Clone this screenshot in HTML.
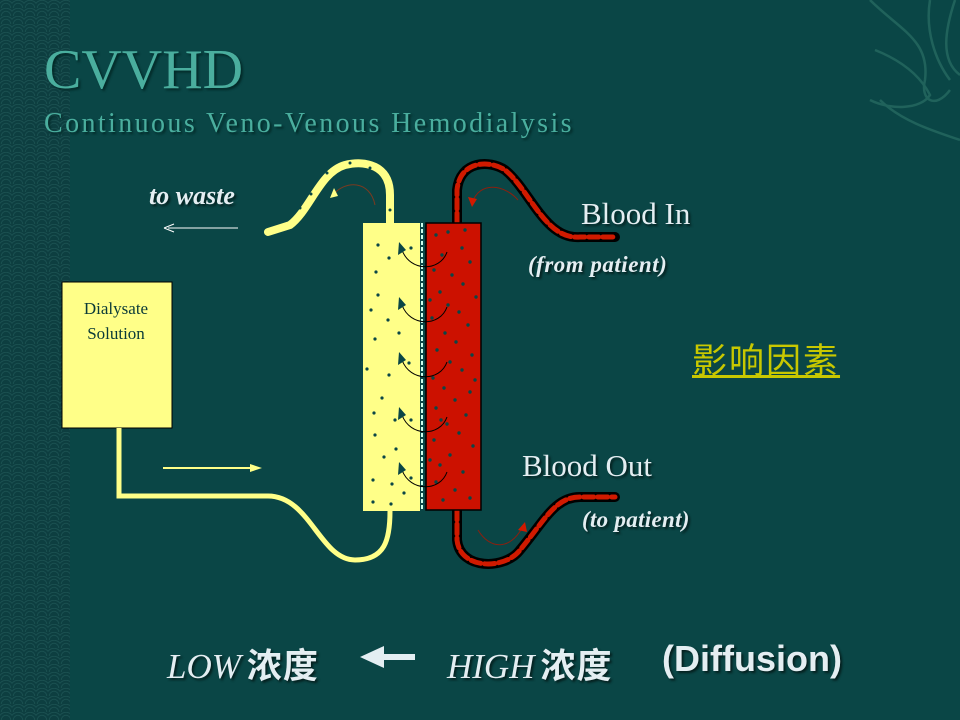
<!DOCTYPE html>
<html><head><meta charset="utf-8"><style>
html,body{margin:0;padding:0}
body{width:960px;height:720px;overflow:hidden;background:#0a4646;position:relative;font-family:"Liberation Serif",serif}
.strip{position:absolute;left:0;top:0;width:70px;height:720px;background-color:#0d3e40;
background-image:radial-gradient(circle at 50% 100%, transparent 4px, #1f5656 4.5px, transparent 5.5px, transparent 7px, #1f5656 7.5px, transparent 8.5px);
background-size:12px 8px}
.t{position:absolute;white-space:nowrap}
.sh{color:#e4eef2;text-shadow:2px 2px 2px #05201f}
.cj{font-family:'Liberation Sans','Noto Sans CJK SC',sans-serif;font-size:35px;font-weight:bold;margin-left:6px;letter-spacing:1px}
</style></head><body>
<div class="strip"></div>
<div class="t" style="left:44px;top:38px;font-size:56px;color:#4aae9e;text-shadow:2px 2px 2px #032a28;letter-spacing:0px">CVVHD</div>
<div class="t" style="left:44px;top:108px;font-size:28px;color:#4aae9e;text-shadow:2px 2px 2px #032a28;letter-spacing:2.4px">Continuous Veno-Venous Hemodialysis</div>

<svg width="960" height="720" style="position:absolute;left:0;top:0">
 <g fill="none" stroke="#2a6e64" stroke-width="2.5" opacity="0.7">
  <path d="M870 0 C900 30 930 40 925 80 C920 100 935 110 950 90"/>
  <path d="M930 0 C925 30 935 60 950 80"/>
  <path d="M955 0 C945 30 940 60 960 75"/>
  <path d="M875 50 C900 60 920 75 930 95 C920 110 890 110 870 100"/>
  <path d="M880 100 C900 120 930 130 960 140"/>
 </g>
 <rect x="62" y="282" width="110" height="146" fill="#ffff88" stroke="#000" stroke-width="1"/>
 <path d="M119 428 V496 H268 C310 496 320 560 355 560 C385 560 390 540 390 511" fill="none" stroke="#ffff88" stroke-width="5"/>
 <path d="M390 223 V195 C390 165 365 160 345 165 C320 172 310 210 290 225 L268 232" fill="none" stroke="#ffff88" stroke-width="8" stroke-linecap="round"/>
 <g fill="#0a4646"><circle cx="350" cy="163" r="1.5"/><circle cx="327" cy="173" r="1.5"/><circle cx="311" cy="194" r="1.5"/><circle cx="300" cy="208" r="1.5"/><circle cx="370" cy="168" r="1.5"/><circle cx="390" cy="210" r="1.5"/></g>
 <path d="M163 468 H258" stroke="#ffff88" stroke-width="2"/>
 <path d="M262 468 L250 464 L250 472 Z" fill="#ffff88"/>
 <path d="M238 228 H168" stroke="#fff" stroke-width="1"/>
 <path d="M164 228 L174 224 M164 228 L174 232" stroke="#fff" stroke-width="1"/>
 <path d="M375 205 C370 180 345 180 333 195" fill="none" stroke="#7a3a20" stroke-width="1"/>
 <path d="M330 198 L334 188 L338 196 Z" fill="#ffff88"/>
 <path d="M457 223 V190 C460 160 490 160 505 170 C530 190 545 240 580 237 H615" fill="none" stroke="#000" stroke-width="10" stroke-linecap="round"/>
 <path d="M457 223 V190 C460 160 490 160 505 170 C530 190 545 240 580 237 H615" fill="none" stroke="#d01a00" stroke-width="5" stroke-dasharray="10 4" stroke-linecap="round"/>
 <path d="M457 510 V540 C460 570 505 570 520 550 C545 520 555 497 580 497 H615" fill="none" stroke="#000" stroke-width="10" stroke-linecap="round"/>
 <path d="M457 510 V540 C460 570 505 570 520 550 C545 520 555 497 580 497 H615" fill="none" stroke="#d01a00" stroke-width="5" stroke-dasharray="10 4" stroke-linecap="round"/>
 <path d="M518 200 C505 185 480 180 472 203" fill="none" stroke="#8a2010" stroke-width="1"/>
 <path d="M472 207 L468 197 L477 199 Z" fill="#d01a00"/>
 <path d="M478 530 C490 550 510 550 522 528" fill="none" stroke="#8a2010" stroke-width="1"/>
 <path d="M525 522 L518 530 L527 532 Z" fill="#d01a00"/>
 <rect x="363" y="223" width="57" height="288" fill="#ffff88"/>
 <rect x="426" y="223" width="55" height="287" fill="#cc1100" stroke="#000" stroke-width="1.5"/>
 <line x1="422" y1="223" x2="422" y2="511" stroke="#cfe" stroke-width="2" stroke-dasharray="4 2"/>
 <g fill="#0a4646">
  <circle cx="378" cy="245" r="1.6"/><circle cx="389" cy="258" r="1.6"/><circle cx="376" cy="272" r="1.6"/><circle cx="411" cy="248" r="1.6"/><circle cx="378" cy="295" r="1.6"/><circle cx="371" cy="310" r="1.6"/><circle cx="388" cy="320" r="1.6"/><circle cx="399" cy="333" r="1.6"/><circle cx="375" cy="339" r="1.6"/><circle cx="367" cy="369" r="1.6"/><circle cx="389" cy="375" r="1.6"/><circle cx="409" cy="363" r="1.6"/><circle cx="382" cy="398" r="1.6"/><circle cx="374" cy="413" r="1.6"/><circle cx="395" cy="420" r="1.6"/><circle cx="375" cy="435" r="1.6"/><circle cx="396" cy="449" r="1.6"/><circle cx="384" cy="457" r="1.6"/><circle cx="373" cy="480" r="1.6"/><circle cx="392" cy="484" r="1.6"/><circle cx="404" cy="493" r="1.6"/><circle cx="373" cy="502" r="1.6"/><circle cx="391" cy="504" r="1.6"/><circle cx="411" cy="478" r="1.6"/><circle cx="402" cy="305" r="1.6"/><circle cx="411" cy="420" r="1.6"/>
 </g>
 <g fill="#0a4646">
  <circle cx="436" cy="235" r="1.7"/><circle cx="448" cy="232" r="1.7"/><circle cx="462" cy="248" r="1.7"/><circle cx="442" cy="255" r="1.7"/><circle cx="470" cy="262" r="1.7"/><circle cx="434" cy="270" r="1.7"/><circle cx="452" cy="275" r="1.7"/><circle cx="463" cy="284" r="1.7"/><circle cx="440" cy="292" r="1.7"/><circle cx="476" cy="297" r="1.7"/><circle cx="448" cy="305" r="1.7"/><circle cx="459" cy="312" r="1.7"/><circle cx="432" cy="318" r="1.7"/><circle cx="468" cy="325" r="1.7"/><circle cx="445" cy="333" r="1.7"/><circle cx="456" cy="342" r="1.7"/><circle cx="437" cy="350" r="1.7"/><circle cx="472" cy="355" r="1.7"/><circle cx="450" cy="362" r="1.7"/><circle cx="462" cy="370" r="1.7"/><circle cx="433" cy="378" r="1.7"/><circle cx="444" cy="388" r="1.7"/><circle cx="470" cy="392" r="1.7"/><circle cx="455" cy="400" r="1.7"/><circle cx="436" cy="408" r="1.7"/><circle cx="466" cy="415" r="1.7"/><circle cx="447" cy="424" r="1.7"/><circle cx="459" cy="433" r="1.7"/><circle cx="434" cy="440" r="1.7"/><circle cx="473" cy="446" r="1.7"/><circle cx="450" cy="455" r="1.7"/><circle cx="440" cy="465" r="1.7"/><circle cx="463" cy="472" r="1.7"/><circle cx="436" cy="482" r="1.7"/><circle cx="455" cy="490" r="1.7"/><circle cx="470" cy="498" r="1.7"/><circle cx="443" cy="500" r="1.7"/><circle cx="430" cy="300" r="1.7"/><circle cx="465" cy="230" r="1.7"/><circle cx="441" cy="420" r="1.7"/><circle cx="475" cy="380" r="1.7"/><circle cx="430" cy="460" r="1.7"/>
 </g>
 <g fill="none" stroke="#000" stroke-width="1">
  <path d="M447 252 C440 272 410 272 402 250"/>
  <path d="M447 307 C440 327 410 327 402 305"/>
  <path d="M447 362 C440 382 410 382 402 360"/>
  <path d="M447 417 C440 437 410 437 402 415"/>
  <path d="M447 472 C440 492 410 492 402 470"/>
 </g>
 <g fill="#0a4646">
  <path d="M399 242 L398 255 L406 250 Z"/><path d="M399 297 L398 310 L406 305 Z"/><path d="M399 352 L398 365 L406 360 Z"/><path d="M399 407 L398 420 L406 415 Z"/><path d="M399 462 L398 475 L406 470 Z"/>
 </g>
 <path d="M415 657 H378" stroke="#e4eef2" stroke-width="6"/>
 <path d="M360 657 L384 646 L384 668 Z" fill="#e4eef2"/>
</svg>

<div class="t sh" style="left:149px;top:181px;font-size:26px;font-style:italic;font-weight:bold">to waste</div>
<div class="t" style="left:74px;top:296px;font-size:17px;color:#0a3a38;text-align:center;width:84px;line-height:25px">Dialysate<br>Solution</div>
<div class="t sh" style="left:581px;top:196px;font-size:31px">Blood In</div>
<div class="t sh" style="left:528px;top:252px;font-size:23px;font-style:italic;font-weight:bold;letter-spacing:0.5px">(from patient)</div>
<div class="t sh" style="left:522px;top:448px;font-size:31px">Blood Out</div>
<div class="t sh" style="left:582px;top:507px;font-size:23px;font-style:italic;font-weight:bold;letter-spacing:0.3px">(to patient)</div>
<div class="t" style="left:692px;top:333px;font-size:35px;color:#c8c800;text-decoration:underline;font-family:'Liberation Sans','Noto Sans CJK SC',sans-serif;letter-spacing:2px">影响因素</div>
<div class="t sh" style="left:167px;top:638px;font-size:35px"><i>LOW</i><b class="cj">浓度</b></div>
<div class="t sh" style="left:447px;top:638px;font-size:35px"><i>HIGH</i><b class="cj">浓度</b></div>
<div class="t sh" style="left:662px;top:638px;font-size:36px;font-weight:bold;font-family:'Liberation Sans',sans-serif">(Diffusion)</div>
</body></html>
